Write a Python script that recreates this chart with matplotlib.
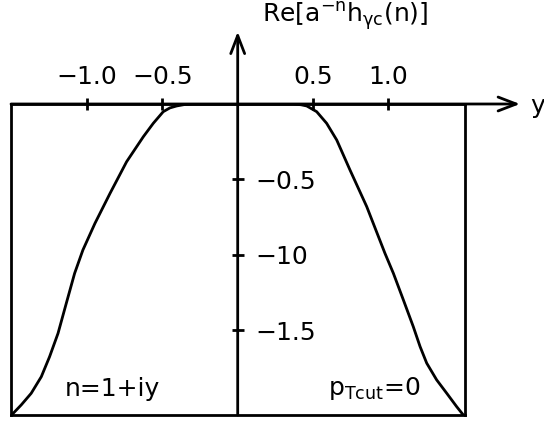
import numpy as np
import matplotlib.pyplot as plt

# curve: Re[a^-n h_gc(n)] against y
y_vals = [-1.50, -1.436, -1.37, -1.303, -1.248, -1.192, -1.137, -1.082, -1.027,
          -0.947, -0.847, -0.737, -0.626, -0.56, -0.494, -0.45, -0.405, -0.35,
          -0.295, 0.0,
          0.369, 0.42, 0.458, 0.524, 0.59, 0.657, 0.745, 0.856, 0.977,
          1.033, 1.099, 1.165, 1.21, 1.254, 1.32, 1.387, 1.453, 1.497]
re_vals = [-2.064, -1.997, -1.92, -1.81, -1.677, -1.522, -1.322, -1.124, -0.969,
           -0.792, -0.593, -0.383, -0.217, -0.128, -0.051, -0.026, -0.013, -0.003,
           0.0, 0.0,
           0.0, -0.005, -0.013, -0.051, -0.128, -0.239, -0.438, -0.681, -0.991,
           -1.124, -1.30, -1.478, -1.61, -1.72, -1.831, -1.92, -2.009, -2.064]

xticks = [-1.0, -0.5, 0.5, 1.0]
xticklabels = ['\u22121.0', '\u22120.5', '0.5', '1.0']
yticks = [-0.5, -1.0, -1.5]
yticklabels = ['\u22120.5', '\u221210', '\u22121.5']

fig = plt.figure(figsize=(5.44, 4.21), dpi=100)
ax = fig.add_axes([11 / 544, 6 / 421, 454 / 544, 311 / 421])
ax.set_xlim(-1.504, 1.508)
ax.set_ylim(-2.064, 0)

ax.plot(y_vals, re_vals, color='black', lw=2.0, solid_joinstyle='round')

for s in ax.spines.values():
    s.set_linewidth(2.0)

ax.xaxis.tick_top()
ax.set_xticks(xticks)
ax.set_xticklabels(xticklabels)
ax.tick_params(axis='x', direction='inout', length=9, width=2, pad=6, labelsize=18)
ax.set_yticks([])

# vertical axis through y=0
sec = ax.secondary_yaxis(0, transform=ax.transData)
sec.set_alignment('right')
sec.spines['right'].set_visible(False)
sec.set_yticks(yticks)
sec.set_yticklabels(yticklabels)
sec.tick_params(direction='inout', length=9, width=2, pad=8, labelsize=18)

arrow = dict(arrowstyle='->,head_length=1.3,head_width=0.5', lw=2,
             color='black', shrinkA=0, shrinkB=0)
ax.annotate('', xy=(1.873, 0), xytext=(-1.504, 0), arrowprops=arrow,
            annotation_clip=False)
ax.annotate('', xy=(0, 0.48), xytext=(0, -2.064), arrowprops=arrow,
            annotation_clip=False)

ax.text(1.99, 0, 'y', fontsize=18, ha='center', va='center_baseline', clip_on=False)
ax.text(0.16, 0.54, r'Re$\mathregular{[a^{-n}h_{\gamma c}(n)]}$', fontsize=18,
        ha='left', va='baseline', clip_on=False)
ax.text(-1.146, -1.938, 'n=1+iy', fontsize=18, ha='left', va='baseline')
ax.text(0.60, -1.93, r'$\mathregular{p_{Tcut}}$=0', fontsize=18, ha='left', va='baseline')

fig.savefig('out.png', dpi=100)
